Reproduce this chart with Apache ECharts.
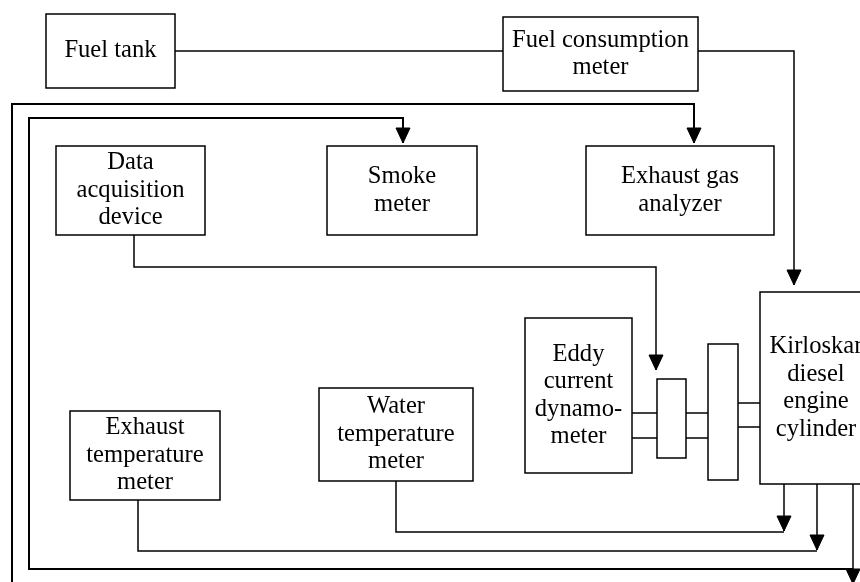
<!DOCTYPE html>
<html>
<head>
<meta charset="utf-8">
<script src="https://cdn.jsdelivr.net/npm/echarts@6/dist/echarts.min.js"></script>
<style>
  html, body { margin: 0; padding: 0; background: #fff; }
  #main { width: 860px; height: 582px; }
</style>
</head>
<body>
<div id="main"></div>
<script>
// diagram blocks (diagram units = pixels of the original figure)
const boxLabels = [
  'Fuel tank',
  'Fuel consumption\nmeter',
  'Data\nacquisition\ndevice',
  'Smoke\nmeter',
  'Exhaust gas\nanalyzer',
  'Eddy\ncurrent\ndynamo-\nmeter',
  '',
  '',
  'Kirloskar\ndiesel\nengine\ncylinder',
  'Exhaust\ntemperature\nmeter',
  'Water\ntemperature\nmeter'
]
const boxLeft = [46, 503, 56, 327, 586, 525, 657, 708, 760, 70, 319]
const boxTop = [14, 17, 146, 146, 146, 318, 379, 344, 292, 411, 388]
const boxRight = [175, 698, 205, 477, 774, 632, 686, 738, 872, 220, 473]
const boxBottom = [88, 91, 235, 235, 235, 473, 458, 480, 484, 500, 481]

// connections between blocks
const linkNames = [
  'fuel in', 'fuel to engine', 'outer loop', 'exhaust loop', 'engine exhaust',
  'daq signal', 'water temp', 'water temp tap', 'exhaust temp', 'exhaust temp tap',
  'shaft 1a', 'shaft 1b', 'shaft 2a', 'shaft 2b', 'shaft 3a', 'shaft 3b'
]
const linkPoints = [
  [[175, 51], [503, 51]],
  [[698, 51], [794, 51], [794, 285]],
  [[12, 590], [12, 104], [694, 104], [694, 143]],
  [[853, 569], [29, 569], [29, 118], [403, 118], [403, 143]],
  [[853, 484], [853, 584]],
  [[134, 235], [134, 267], [656, 267], [656, 370]],
  [[396, 481], [396, 532], [784, 532]],
  [[784, 484], [784, 531]],
  [[138, 500], [138, 551], [817, 551]],
  [[817, 484], [817, 550]],
  [[632, 413], [657, 413]],
  [[632, 438], [657, 438]],
  [[686, 413], [708, 413]],
  [[686, 438], [708, 438]],
  [[738, 403], [760, 403]],
  [[738, 427], [760, 427]]
]
const linkArrow = [false, true, true, true, true, true, false, true, false, true,
  false, false, false, false, false, false]
const heavyLinks = ['outer loop', 'exhaust loop']

const chart = echarts.init(document.getElementById('main'))

const renderBox = (params, api) => {
  const p0 = api.coord([api.value(0), api.value(1)])
  const p1 = api.coord([api.value(2), api.value(3)])
  const label = boxLabels[params.dataIndex]
  return {
    type: 'group',
    children: [
      {
        type: 'rect',
        shape: { x: p0[0], y: p0[1], width: p1[0] - p0[0], height: p1[1] - p0[1] },
        style: { fill: '#fff', stroke: '#000', lineWidth: 1.5 }
      },
      {
        type: 'text',
        style: {
          text: label,
          x: (p0[0] + p1[0]) / 2,
          y: (p0[1] + p1[1]) / 2,
          align: 'center',
          verticalAlign: 'middle',
          font: '24.6px "Liberation Serif", "DejaVu Serif", serif',
          lineHeight: 27.5,
          fill: '#000'
        }
      }
    ]
  }
}

const renderLink = (params, api) => {
  const i = params.dataIndex
  const pts = linkPoints[i].map((p) => api.coord(p))
  const width = heavyLinks.includes(linkNames[i]) ? 2 : 1.5
  const children = [
    {
      type: 'polyline',
      shape: { points: pts },
      style: { fill: null, stroke: '#000', lineWidth: width }
    }
  ]
  if (linkArrow[i]) {
    const tip = pts[pts.length - 1]
    const prev = pts[pts.length - 2]
    const len = Math.hypot(tip[0] - prev[0], tip[1] - prev[1])
    const ux = (tip[0] - prev[0]) / len
    const uy = (tip[1] - prev[1]) / len
    const back = 15
    const half = 7
    const bx = tip[0] - ux * back
    const by = tip[1] - uy * back
    children.push({
      type: 'polygon',
      shape: {
        points: [
          tip,
          [bx - uy * half, by + ux * half],
          [bx + uy * half, by - ux * half]
        ]
      },
      style: { fill: '#000', stroke: '#000', lineWidth: 1 }
    })
  }
  return { type: 'group', children }
}

const option = {
  animation: false,
  grid: { left: 0, right: 0, top: 0, bottom: 0 },
  xAxis: { type: 'value', min: 0, max: 860, show: false },
  yAxis: { type: 'value', min: 0, max: 582, inverse: true, show: false },
  series: [
    {
      name: 'links',
      type: 'custom',
      renderItem: renderLink,
      clip: false,
      data: linkNames.map((_, i) => [linkPoints[i][0][0], linkPoints[i][0][1]]),
      z: 1
    },
    {
      name: 'blocks',
      type: 'custom',
      renderItem: renderBox,
      clip: false,
      encode: { x: [0, 2], y: [1, 3] },
      data: boxLabels.map((_, i) => [boxLeft[i], boxTop[i], boxRight[i], boxBottom[i]]),
      z: 2
    }
  ]
}

chart.setOption(option)
</script>
</body>
</html>
